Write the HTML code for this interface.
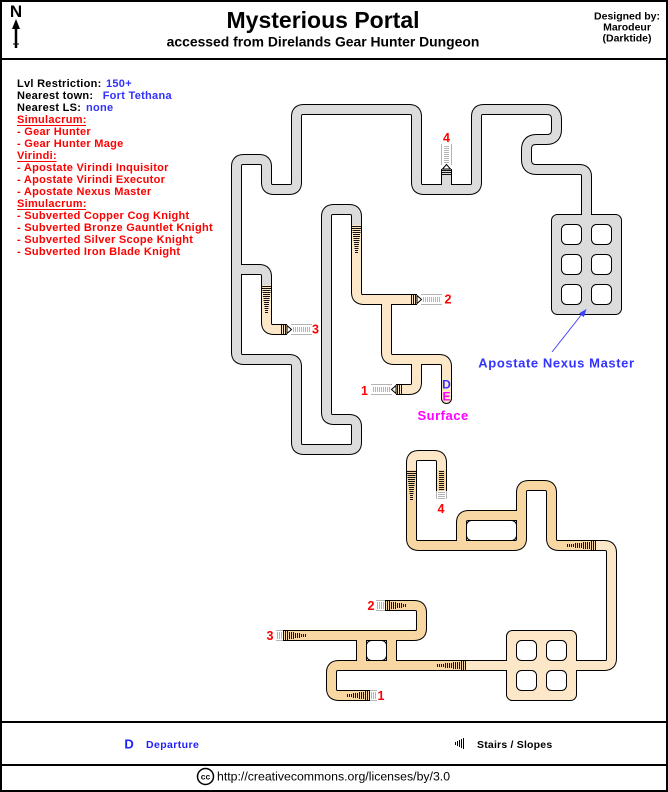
<!DOCTYPE html>
<html><head><meta charset="utf-8">
<style>
html,body{margin:0;padding:0;background:#fff;}
svg{display:block;}
text{font-family:"Liberation Sans",Arial,sans-serif;font-weight:bold;}
</style></head>
<body>
<svg width="668" height="792" viewBox="0 0 668 792" xmlns="http://www.w3.org/2000/svg">
<rect x="0" y="0" width="668" height="792" fill="#fff"/>
<!-- frame -->
<rect x="1" y="1" width="666" height="790" fill="none" stroke="#000" stroke-width="2"/>
<line x1="0" y1="59" x2="668" y2="59" stroke="#000" stroke-width="2"/>
<line x1="0" y1="722" x2="668" y2="722" stroke="#000" stroke-width="2"/>
<line x1="0" y1="765" x2="668" y2="765" stroke="#000" stroke-width="2"/>

<!-- header -->
<text x="16" y="17" font-size="17" text-anchor="middle">N</text>
<line x1="16" y1="24" x2="16" y2="48" stroke="#000" stroke-width="2.5"/>
<polygon points="12,29 16,19 20,29" fill="#000"/>
<line x1="13" y1="44" x2="19" y2="44" stroke="#000" stroke-width="1"/>
<text x="323" y="28" font-size="23" text-anchor="middle">Mysterious Portal</text>
<text x="323" y="46.5" font-size="13.9" text-anchor="middle">accessed from Direlands Gear Hunter Dungeon</text>
<text x="627" y="19.5" font-size="10.5" text-anchor="middle">Designed by:</text>
<text x="627" y="30.5" font-size="10.5" text-anchor="middle">Marodeur</text>
<text x="627" y="41.5" font-size="10.5" text-anchor="middle">(Darktide)</text>

<!-- left info -->
<g font-size="11" letter-spacing="0.28">
<text x="17" y="87">Lvl Restriction: <tspan x="106" fill="#3030ff">150+</tspan></text>
<text x="17" y="99">Nearest town: <tspan x="102.7" fill="#3030ff">Fort Tethana</tspan></text>
<text x="17" y="111">Nearest LS: <tspan x="86" fill="#3030ff">none</tspan></text>
<g fill="#f00">
<text x="17" y="123">Simulacrum:</text>
<text x="17" y="135">- Gear Hunter</text>
<text x="17" y="147">- Gear Hunter Mage</text>
<text x="17" y="159">Virindi:</text>
<text x="17" y="171">- Apostate Virindi Inquisitor</text>
<text x="17" y="183">- Apostate Virindi Executor</text>
<text x="17" y="195">- Apostate Nexus Master</text>
<text x="17" y="207">Simulacrum:</text>
<text x="17" y="219">- Subverted Copper Cog Knight</text>
<text x="17" y="231">- Subverted Bronze Gauntlet Knight</text>
<text x="17" y="243">- Subverted Silver Scope Knight</text>
<text x="17" y="255">- Subverted Iron Blade Knight</text>
</g>
</g>
<g stroke="#f00" stroke-width="1">
<line x1="17" y1="125.5" x2="86" y2="125.5"/>
<line x1="17" y1="161.5" x2="56.5" y2="161.5"/>
<line x1="17" y1="209.5" x2="86" y2="209.5"/>
</g>

<!-- ===== corridors: black outlines ===== -->
<g fill="none" stroke="#000" stroke-width="11" stroke-linecap="butt" stroke-linejoin="round">
<path id="g1" d="M356.5,225 L356.5,216.5 Q356.5,209.5 349.5,209.5 L333.5,209.5 Q326.5,209.5 326.5,216.5 L326.5,412.5 Q326.5,419.5 333.5,419.5 L349.5,419.5 Q356.5,419.5 356.5,426.5 L356.5,442.5 Q356.5,449.5 349.5,449.5 L303.5,449.5 Q296.5,449.5 296.5,442.5 L296.5,366.5 Q296.5,359.5 289.5,359.5 L243.5,359.5 Q236.5,359.5 236.5,352.5 L236.5,166.5 Q236.5,159.5 243.5,159.5 L259.5,159.5 Q266.5,159.5 266.5,166.5 L266.5,182.5 Q266.5,189.5 273.5,189.5 L289.5,189.5 Q296.5,189.5 296.5,182.5 L296.5,116.5 Q296.5,109.5 303.5,109.5 L409.5,109.5 Q416.5,109.5 416.5,116.5 L416.5,182.5 Q416.5,189.5 423.5,189.5 L469.5,189.5 Q476.5,189.5 476.5,182.5 L476.5,116.5 Q476.5,109.5 483.5,109.5 L546.5,109.5 Q556.5,109.5 556.5,119.5 L556.5,129.5 Q556.5,139.5 546.5,139.5 L536.5,139.5 Q526.5,139.5 526.5,149.5 L526.5,159.5 Q526.5,169.5 536.5,169.5 L579.5,169.5 Q586.5,169.5 586.5,176.5 L586.5,222"/>
<path d="M236.5,269.5 L259.5,269.5 Q266.5,269.5 266.5,276.5 L266.5,285"/>
<path d="M446.5,189.5 L446.5,169"/>
<path d="M266.5,285 L266.5,322.5 Q266.5,329.5 273.5,329.5 L287,329.5"/>
<path d="M356.5,225 L356.5,292.5 Q356.5,299.5 363.5,299.5 L417,299.5"/>
<path d="M386.5,299.5 L386.5,352.5 Q386.5,359.5 393.5,359.5 L439.5,359.5 Q446.5,359.5 446.5,366.5 L446.5,398.5" stroke-linecap="round"/>
<path d="M416.5,359.5 L416.5,382.5 Q416.5,389.5 409.5,389.5 L396,389.5"/>
<!-- lower -->
<path d="M441.5,470 L441.5,462.5 Q441.5,455.5 434.5,455.5 L418.5,455.5 Q411.5,455.5 411.5,462.5 L411.5,470"/>
<path d="M441.5,470 L441.5,491"/>
<path d="M411.5,470 L411.5,538.5 Q411.5,545.5 418.5,545.5 L514.5,545.5 Q521.5,545.5 521.5,538.5 L521.5,492.5 Q521.5,485.5 528.5,485.5 L544.5,485.5 Q551.5,485.5 551.5,492.5 L551.5,538.5 Q551.5,545.5 558.5,545.5 L596,545.5"/>
<path d="M461.5,545.5 L461.5,522.5 Q461.5,515.5 468.5,515.5 L521.5,515.5"/>
<path d="M596,545.5 L604.5,545.5 Q611.5,545.5 611.5,552.5 L611.5,658.5 Q611.5,665.5 604.5,665.5 L570,665.5"/>
<path d="M385,605.5 L414.5,605.5 Q421.5,605.5 421.5,612.5 L421.5,628.5 Q421.5,635.5 414.5,635.5 L283,635.5"/>
<path d="M361.5,635.5 L361.5,665.5 M391.5,635.5 L391.5,665.5"/>
<path d="M370,695.5 L338.5,695.5 Q331.5,695.5 331.5,688.5 L331.5,672.5 Q331.5,665.5 338.5,665.5 L466,665.5"/>
<path d="M466,665.5 L512,665.5"/>
</g>

<!-- rooms -->
<rect x="551.5" y="214.5" width="70" height="100" rx="6" fill="#dcdcdc" stroke="#000" stroke-width="1"/>
<rect x="506.5" y="630.5" width="70" height="70" rx="6" fill="#fde7c9" stroke="#000" stroke-width="1"/>

<!-- ===== corridor fills ===== -->
<g fill="none" stroke-width="9" stroke-linecap="butt" stroke-linejoin="round">
<g stroke="#dcdcdc">
<path d="M356.5,225 L356.5,216.5 Q356.5,209.5 349.5,209.5 L333.5,209.5 Q326.5,209.5 326.5,216.5 L326.5,412.5 Q326.5,419.5 333.5,419.5 L349.5,419.5 Q356.5,419.5 356.5,426.5 L356.5,442.5 Q356.5,449.5 349.5,449.5 L303.5,449.5 Q296.5,449.5 296.5,442.5 L296.5,366.5 Q296.5,359.5 289.5,359.5 L243.5,359.5 Q236.5,359.5 236.5,352.5 L236.5,166.5 Q236.5,159.5 243.5,159.5 L259.5,159.5 Q266.5,159.5 266.5,166.5 L266.5,182.5 Q266.5,189.5 273.5,189.5 L289.5,189.5 Q296.5,189.5 296.5,182.5 L296.5,116.5 Q296.5,109.5 303.5,109.5 L409.5,109.5 Q416.5,109.5 416.5,116.5 L416.5,182.5 Q416.5,189.5 423.5,189.5 L469.5,189.5 Q476.5,189.5 476.5,182.5 L476.5,116.5 Q476.5,109.5 483.5,109.5 L546.5,109.5 Q556.5,109.5 556.5,119.5 L556.5,129.5 Q556.5,139.5 546.5,139.5 L536.5,139.5 Q526.5,139.5 526.5,149.5 L526.5,159.5 Q526.5,169.5 536.5,169.5 L579.5,169.5 Q586.5,169.5 586.5,176.5 L586.5,222"/>
<path d="M236.5,269.5 L259.5,269.5 Q266.5,269.5 266.5,276.5 L266.5,285"/>
<path d="M446.5,189.5 L446.5,169"/>
</g>
<g stroke="#fde7c9">
<path d="M266.5,285 L266.5,322.5 Q266.5,329.5 273.5,329.5 L287,329.5"/>
<path d="M356.5,225 L356.5,292.5 Q356.5,299.5 363.5,299.5 L417,299.5"/>
<path d="M386.5,299.5 L386.5,352.5 Q386.5,359.5 393.5,359.5 L439.5,359.5 Q446.5,359.5 446.5,366.5 L446.5,398.5" stroke-linecap="round"/>
<path d="M416.5,359.5 L416.5,382.5 Q416.5,389.5 409.5,389.5 L396,389.5"/>
<path d="M441.5,470 L441.5,462.5 Q441.5,455.5 434.5,455.5 L418.5,455.5 Q411.5,455.5 411.5,462.5 L411.5,470"/>
<path d="M596,545.5 L604.5,545.5 Q611.5,545.5 611.5,552.5 L611.5,658.5 Q611.5,665.5 604.5,665.5 L570,665.5"/>
<path d="M466,665.5 L512,665.5"/>
</g>
<g stroke="#f8d7a3">
<path d="M441.5,470 L441.5,491"/>
<path d="M411.5,470 L411.5,538.5 Q411.5,545.5 418.5,545.5 L514.5,545.5 Q521.5,545.5 521.5,538.5 L521.5,492.5 Q521.5,485.5 528.5,485.5 L544.5,485.5 Q551.5,485.5 551.5,492.5 L551.5,538.5 Q551.5,545.5 558.5,545.5 L596,545.5"/>
<path d="M461.5,545.5 L461.5,522.5 Q461.5,515.5 468.5,515.5 L521.5,515.5"/>
<path d="M385,605.5 L414.5,605.5 Q421.5,605.5 421.5,612.5 L421.5,628.5 Q421.5,635.5 414.5,635.5 L283,635.5"/>
<path d="M361.5,635.5 L361.5,665.5 M391.5,635.5 L391.5,665.5"/>
<path d="M370,695.5 L338.5,695.5 Q331.5,695.5 331.5,688.5 L331.5,672.5 Q331.5,665.5 338.5,665.5 L466,665.5"/>
</g>
</g>

<!-- holes -->
<g fill="#fff" stroke="#000" stroke-width="1">
<rect x="561.5" y="224.5" width="20" height="20" rx="5"/>
<rect x="591.5" y="224.5" width="20" height="20" rx="5"/>
<rect x="561.5" y="254.5" width="20" height="20" rx="5"/>
<rect x="591.5" y="254.5" width="20" height="20" rx="5"/>
<rect x="561.5" y="284.5" width="20" height="20" rx="5"/>
<rect x="591.5" y="284.5" width="20" height="20" rx="5"/>
<rect x="516.5" y="640.5" width="20" height="20" rx="5"/>
<rect x="546.5" y="640.5" width="20" height="20" rx="5"/>
<rect x="516.5" y="670.5" width="20" height="20" rx="5"/>
<rect x="546.5" y="670.5" width="20" height="20" rx="5"/>
<rect x="466.5" y="520.5" width="50" height="20" rx="5"/>
<rect x="366.5" y="640.5" width="20" height="20" rx="5"/>
</g>

<!-- stairs -->
<g fill="none" stroke="#111" stroke-width="1">
<path d="M352,226.5h9M352,228.5h9M352.5,230.5h8M352.5,232.5h8M353,234.5h7M353,236.5h7M353.5,238.5h6M353.5,240.5h6M354,242.5h5M354,244.5h5M354.5,246.5h4M354.5,248.5h4M355,250.5h3M355,252.5h3"/>
<path d="M262,286.5h9M262,288.5h9M262.5,290.5h8M262.5,292.5h8M263,294.5h7M263,296.5h7M263.5,298.5h6M263.5,300.5h6M264,302.5h5M264,304.5h5M264.5,306.5h4M264.5,308.5h4M265,310.5h3M265,312.5h3"/>
<path d="M281.5,325v9M283.5,325v9M285.5,325v9"/>
<path d="M411.5,295v9M413.5,295v9M415.5,295v9"/>
<path d="M397.5,385v9M399.5,385v9M401.5,385v9"/>
<path d="M442,170.5h9M442,172.5h9M442,174.5h9"/>
<path d="M407,471.5h9M407,473.5h9M407.5,475.5h8M407.5,477.5h8M408,479.5h7M408,481.5h7M408.5,483.5h6M408.5,485.5h6M409,487.5h5M409,489.5h5M409.5,491.5h4M409.5,493.5h4M410,495.5h3M410,497.5h3M410,499.5h3"/>
<path d="M439,471.5h5M439,473.5h5M439,475.5h5M439,477.5h5M439,479.5h5M439,481.5h5M439,483.5h5M439,485.5h5M439,487.5h5M439,489.5h5"/>
<path d="M567.5,544v3M569.5,544v3M571.5,544v3M573.5,544v3M575.5,543v5M577.5,543v5M579.5,543v5M581.5,543v5M583.5,542v7M585.5,542v7M587.5,542v7M589.5,542v7M591.5,541v9M593.5,541v9M595.5,541v9"/>
<path d="M437.5,664v3M439.5,664v3M441.5,664v3M443.5,664v3M445.5,663v5M447.5,663v5M449.5,663v5M451.5,663v5M453.5,662v7M455.5,662v7M457.5,662v7M459.5,662v7M461.5,661v9M463.5,661v9M465.5,661v9"/>
<path d="M283.5,631v9M285.5,631v9M287.5,631v9M289.5,632v7M291.5,632v7M293.5,632v7M295.5,633v5M297.5,633v5M299.5,633v5M301.5,634v3M303.5,634v3M305.5,634v3"/>
<path d="M385.5,601v9M387.5,601v9M389.5,601v9M391.5,602v7M393.5,602v7M395.5,602v7M397.5,603v5M399.5,603v5M401.5,603v5M403.5,604v3M405.5,604v3"/>
<path d="M347.5,694v3M349.5,694v3M351.5,694v3M353.5,693v5M355.5,693v5M357.5,693v5M359.5,692v7M361.5,692v7M363.5,692v7M365.5,691v9M367.5,691v9M369.5,691v9"/>
</g>

<!-- stubs (light gray) -->
<g fill="none" stroke="#b4b4b4" stroke-width="1">
<path d="M291,324.5h21M291,334.5h21"/>
<path d="M293.5,327v5M295.5,327v5M297.5,327v5M299.5,327v5M301.5,327v5M303.5,327v5M305.5,327v5M307.5,327v5M309.5,327v5"/>
<path d="M421,294.5h21M421,304.5h21"/>
<path d="M423.5,297v5M425.5,297v5M427.5,297v5M429.5,297v5M431.5,297v5M433.5,297v5M435.5,297v5M437.5,297v5M439.5,297v5"/>
<path d="M371,384.5h21M371,394.5h21"/>
<path d="M373.5,387v5M375.5,387v5M377.5,387v5M379.5,387v5M381.5,387v5M383.5,387v5M385.5,387v5M387.5,387v5M389.5,387v5"/>
<path d="M441.5,144v21M451.5,144v21"/>
<path d="M444,146.5h5M444,148.5h5M444,150.5h5M444,152.5h5M444,154.5h5M444,156.5h5M444,158.5h5M444,160.5h5M444,162.5h5"/>
<path d="M376,600.5h9M376,610.5h9M377.5,602v7M379.5,602v7M381.5,602v7M383.5,602v7"/>
<path d="M276,630.5h7M276,640.5h7M277.5,632v7M279.5,632v7M281.5,632v7"/>
<path d="M370,690.5h7M370,700.5h7M371.5,692v7M373.5,692v7M375.5,692v7"/>
<path d="M436.5,491v8M446.5,491v8M438,492.5h7M438,494.5h7M438,496.5h7M438,498.5h7"/>
</g>
<g fill="#fff" stroke="#000" stroke-width="1">
<polygon points="287,325.5 291.5,329.5 287,333.5"/>
<polygon points="417,295.5 421.5,299.5 417,303.5"/>
<polygon points="396,385.5 391.5,389.5 396,393.5"/>
<polygon points="442.5,169 446.5,164.5 450.5,169"/>
</g>

<!-- labels -->
<g fill="#f00" font-size="12.5" text-anchor="middle">
<text x="446.5" y="142">4</text>
<text x="315.5" y="333.5">3</text>
<text x="448" y="303.5">2</text>
<text x="364.5" y="395">1</text>
<text x="441" y="513">4</text>
<text x="371" y="610">2</text>
<text x="270" y="640">3</text>
<text x="381" y="700">1</text>
</g>
<text x="446.5" y="388.5" font-size="12" fill="#3333ff" text-anchor="middle">D</text>
<text x="446.5" y="400.5" font-size="12" fill="#ff00ff" text-anchor="middle">E</text>
<text x="417.5" y="420" font-size="13" fill="#ff00ff" letter-spacing="0.5">Surface</text>

<!-- nexus master arrow -->
<line x1="552" y1="352" x2="582" y2="314" stroke="#4040ff" stroke-width="1"/>
<polygon points="586.5,309 583.8,317.1 579.2,313.3" fill="#4040ff"/>
<text x="478.3" y="367.3" font-size="13" fill="#3333ff" letter-spacing="0.6">Apostate Nexus Master</text>

<!-- legend -->
<text x="124.4" y="748.5" font-size="13" fill="#2020ff">D</text>
<text x="146" y="748" font-size="10.5" fill="#2020ff" letter-spacing="0.4">Departure</text>
<path d="M455.5,742v3M457.5,741v5M459.5,740v7M461.5,739v9M463.5,738v11" stroke="#000" stroke-width="1" fill="none"/>
<text x="477" y="748" font-size="10.5" fill="#000" letter-spacing="0.2">Stairs / Slopes</text>

<!-- cc -->
<circle cx="205.5" cy="776.5" r="8" fill="#fff" stroke="#000" stroke-width="1.5"/>
<text x="205.5" y="779.5" font-size="8.5" text-anchor="middle">cc</text>
<text x="217" y="780.5" font-size="12.3" style="font-weight:normal">http://creativecommons.org/licenses/by/3.0</text>
</svg>
</body></html>
